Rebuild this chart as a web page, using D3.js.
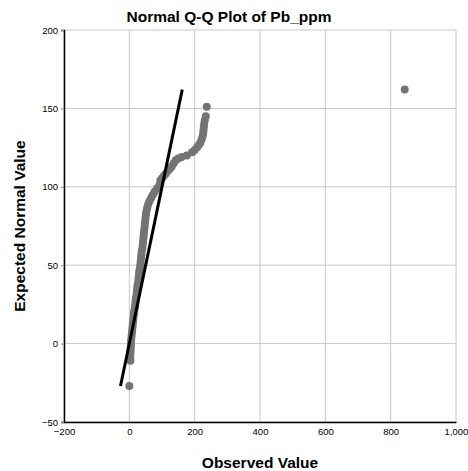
<!DOCTYPE html>
<html>
<head>
<meta charset="utf-8">
<script src="https://cdn.jsdelivr.net/npm/d3@7/dist/d3.min.js"></script>
<style>
  html, body { margin: 0; padding: 0; background: #fff; }
  svg { display: block; }
  text { font-family: "Liberation Sans", Arial, sans-serif; }
</style>
</head>
<body>
<svg id="chart" width="468" height="471"></svg>
<script>
// ---- data ----
const titleText = "Normal Q-Q Plot of Pb_ppm";
const xTitle = "Observed Value";
const yTitle = "Expected Normal Value";
const xTicks = [-200, 0, 200, 400, 600, 800, 1000];
const yTicks = [-50, 0, 50, 100, 150, 200];

const observed = [
  0, 3, 3, 3, 4, 4, 5, 5, 6, 7, 8, 9, 10, 11, 12, 13, 14, 15, 17, 18,
  19, 20, 22, 23, 24, 25, 27, 28, 29, 30, 31, 33, 34, 35, 36, 37, 38, 40, 41, 42,
  43, 44, 45, 46, 47, 48, 49, 50, 51, 53, 55, 58, 62, 67, 72, 78, 85, 92,
  95, 100, 106, 112, 118, 124, 130, 136, 142, 150,
  160, 176, 192, 200, 207, 212, 217, 221, 224, 226, 227, 228, 229, 231, 234, 237, 843
];
const expected = [
  -27, -11, -9, -7, -5, -3, -1, 1, 3, 5, 7, 9, 11, 13, 15, 17, 19, 21, 23, 25,
  27, 29, 31, 33, 35, 37, 39, 41, 43, 45, 47, 49, 51, 53, 55, 57, 59, 61, 63, 65,
  67, 69, 71, 73, 75, 77, 79, 81, 83, 85, 87, 89, 91, 93, 95, 97, 99, 101,
  104, 105.5, 107, 108.5, 110, 111.5, 113, 115, 117, 118,
  119, 120, 122, 123.5, 125, 126.5, 128, 130, 132, 134, 136, 138, 140, 142.5, 145, 151, 162
];

// ---- layout ----
const svg = d3.select("#chart");
const plot = { left: 64, right: 456, top: 30, bottom: 422 };

const x = d3.scaleLinear().domain([-200, 1000]).range([plot.left, plot.right]);
const y = d3.scaleLinear().domain([-50, 200]).range([plot.bottom, plot.top]);

// grid lines
const grid = svg.append("g");
grid.selectAll("line.vx").data(xTicks).join("line")
  .attr("x1", d => x(d)).attr("x2", d => x(d))
  .attr("y1", plot.top).attr("y2", plot.bottom)
  .attr("stroke", "#c8c8c8").attr("stroke-width", 1);
grid.selectAll("line.hy").data(yTicks).join("line")
  .attr("x1", plot.left).attr("x2", plot.right)
  .attr("y1", d => y(d)).attr("y2", d => y(d))
  .attr("stroke", "#c8c8c8").attr("stroke-width", 1);

// axes
const xAxis = d3.axisBottom(x).tickValues(xTicks).tickSize(0).tickPadding(6)
  .tickFormat(d3.format(","));
const yAxis = d3.axisLeft(y).tickValues(yTicks).tickSize(3).tickPadding(3);

const gx = svg.append("g").attr("transform", `translate(0,${plot.bottom})`).call(xAxis);
const gy = svg.append("g").attr("transform", `translate(${plot.left},0)`).call(yAxis);
[gx, gy].forEach(g => {
  g.select(".domain").attr("stroke", "#000").attr("stroke-width", 1.5);
  g.selectAll(".tick text").attr("font-size", 9.5).attr("fill", "#000")
    .style("font-family", "'Liberation Sans', Arial, sans-serif");
  g.selectAll(".tick line").attr("stroke", "#888");
});

// points
const pts = observed.map((o, i) => ({ o, e: expected[i] }));
svg.append("g").selectAll("circle").data(pts).join("circle")
  .attr("cx", d => x(d.o)).attr("cy", d => y(d.e))
  .attr("r", 4).attr("fill", "#747474");

// reference line (identity over the range of expected values)
const ext = d3.extent(expected);
svg.append("line")
  .attr("x1", x(ext[0])).attr("y1", y(ext[0]))
  .attr("x2", x(ext[1])).attr("y2", y(ext[1]))
  .attr("stroke", "#000").attr("stroke-width", 3);

// titles
svg.append("text").attr("x", 229).attr("y", 22).attr("text-anchor", "middle")
  .attr("font-size", 15.5).attr("font-weight", "bold").text(titleText);
svg.append("text").attr("x", (plot.left + plot.right) / 2).attr("y", 468)
  .attr("text-anchor", "middle").attr("font-size", 15.5).attr("font-weight", "bold").text(xTitle);
svg.append("text").attr("transform", `translate(25,${(plot.top + plot.bottom) / 2}) rotate(-90)`)
  .attr("text-anchor", "middle").attr("font-size", 15.5).attr("font-weight", "bold").text(yTitle);
</script>
</body>
</html>
